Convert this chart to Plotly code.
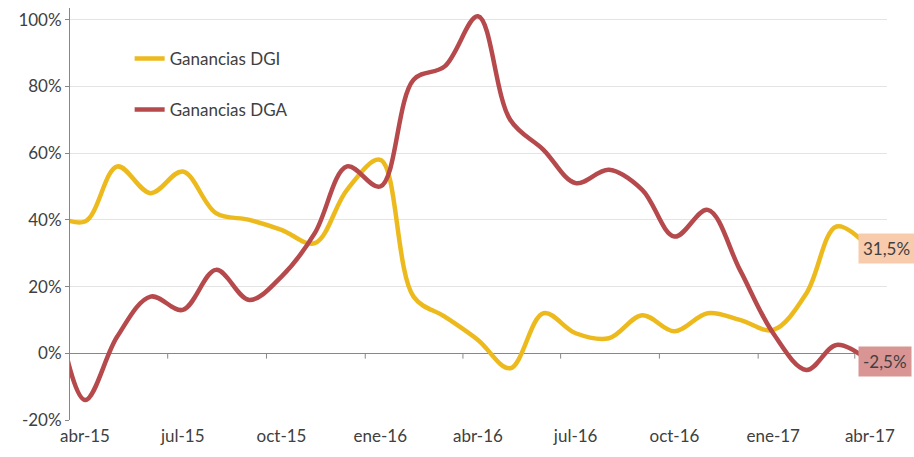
import plotly.graph_objects as go
import pandas as pd

# Monthly data (points placed at mid-month), mar-15 .. abr-17
months = pd.date_range("2015-03-01", "2017-04-01", freq="MS") + pd.Timedelta(days=14)
dgi = [42, 39.5, 56, 48, 54.5, 42, 40, 37, 33, 49, 58, 17, 11, 4, -4.5, 12, 6, 4.5,
       11.4, 6.6, 12, 10, 7, 18, 38, 31.5]
dga = [21, -14, 5, 17, 13, 25, 16, 23, 36, 56, 50, 82, 86, 101, 70, 61, 51, 55, 49,
       35, 43, 25, 6, -5, 2.5, -2.5]
series_names = ["Ganancias DGI", "Ganancias DGA"]
colors = ["#EDBA1E", "#B5494C"]
label_bg = ["#F8CBAD", "#D99594"]

tick_dates = pd.date_range("2015-04-01", "2017-04-01", freq="3MS")
tick_labels = ["abr-15", "jul-15", "oct-15", "ene-16", "abr-16", "jul-16", "oct-16", "ene-17", "abr-17"]
label_pos = tick_dates + pd.Timedelta(days=14)

y_ticks = [-20, 0, 20, 40, 60, 80, 100]
font_family = "Lato, 'Open Sans', sans-serif"
text_color = "#404040"
fsize = 17

fig = go.Figure()
for i, (name, vals) in enumerate(zip(series_names, [dgi, dga])):
    fig.add_trace(go.Scatter(
        x=months, y=vals, name=name, mode="lines",
        line=dict(color=colors[i], width=4.5, shape="spline", smoothing=1.0),
        legendgroup=f"g{i}",
    ))

# end labels
for i, vals in enumerate([dgi, dga]):
    v = vals[-1]
    fig.add_annotation(
        x=months[-1], y=v, xref="x", yref="y",
        text=f"{v:.1f}%".replace(".", ","),
        showarrow=False, xanchor="left", xshift=-12,
        bgcolor=label_bg[i], borderpad=4,
        font=dict(family=font_family, size=fsize, color=text_color),
    )

# small tick marks on the zero axis line
for d in tick_dates[1:]:
    fig.add_shape(type="line", xref="x", yref="y", x0=d, x1=d, y0=0, y1=-1.6,
                  line=dict(color="#878787", width=1), layer="below")

fig.update_layout(
    width=914, height=457,
    margin=dict(l=70, r=27, t=8, b=37),
    paper_bgcolor="white", plot_bgcolor="white",
    font=dict(family=font_family, size=fsize, color=text_color),
    showlegend=True,
    legend=dict(x=0.073, y=0.92, xanchor="left", yanchor="top",
                bgcolor="rgba(255,255,255,0)", font=dict(size=fsize, color=text_color),
                traceorder="grouped", tracegroupgap=26),
    xaxis=dict(
        range=[pd.Timestamp("2015-04-01"), pd.Timestamp("2017-05-01")],
        tickvals=label_pos, ticktext=tick_labels, ticks="",
        showgrid=False, zeroline=False, showline=False,
        ticklabelstandoff=4,
        tickfont=dict(size=fsize, color=text_color),
    ),
    yaxis=dict(
        range=[-20, 103.5], tickvals=y_ticks,
        ticktext=[f"{v}%" for v in y_ticks],
        showgrid=True, gridcolor="#E4E4E4", gridwidth=1,
        zeroline=True, zerolinecolor="#878787", zerolinewidth=1,
        showline=True, linecolor="#878787", linewidth=1,
        ticks="outside", ticklen=4, tickcolor="#878787",
        tickfont=dict(size=fsize, color=text_color),
    ),
)

fig.write_html("out.html", config={"displayModeBar": False},
               post_script="document.body.style.margin='0';")
